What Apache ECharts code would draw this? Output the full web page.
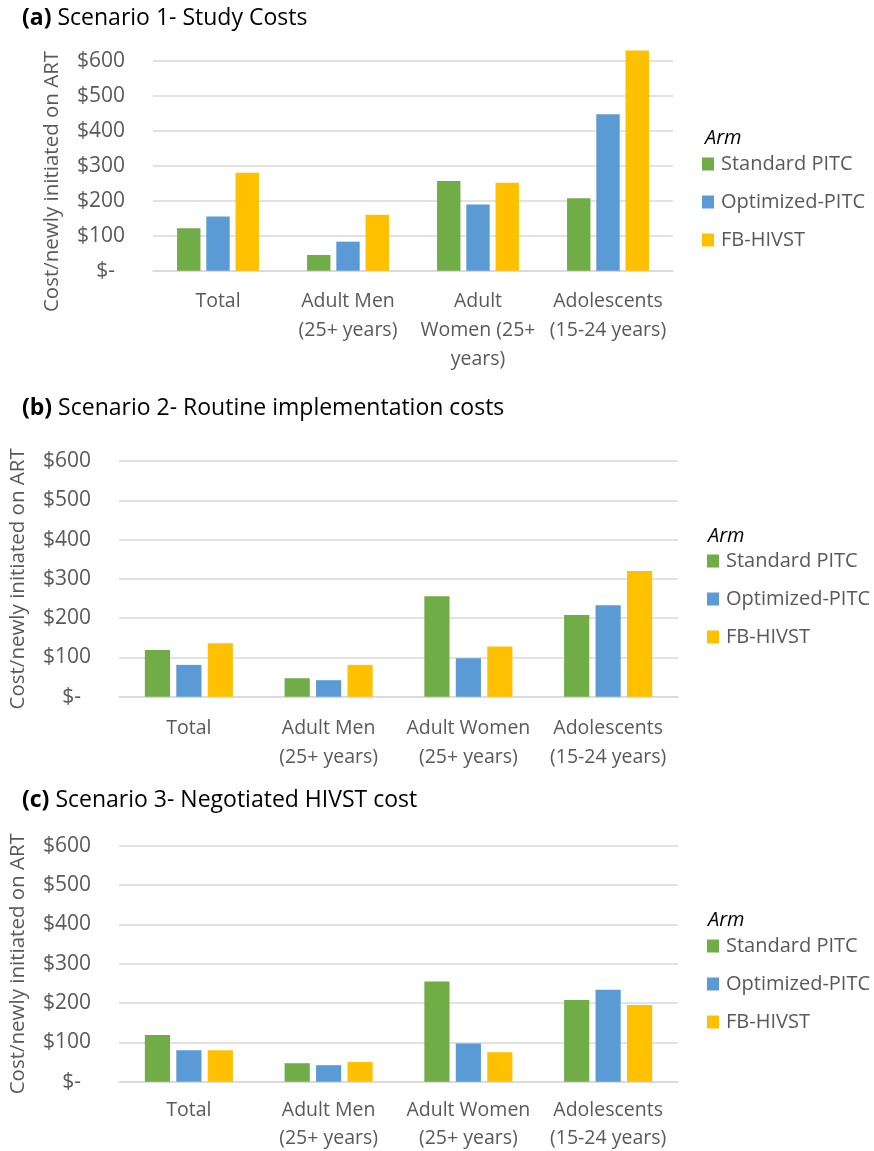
<!DOCTYPE html>
<html>
<head>
<meta charset="utf-8">
<script src="https://cdn.jsdelivr.net/npm/echarts@6/dist/echarts.min.js"></script>
<style>
html,body{margin:0;padding:0;background:#fff;}
#chart{width:874px;height:1151px;}
</style>
</head>
<body>
<div id="chart"></div>
<script>
// ---- data ----
const seriesNames = ['Standard PITC', 'Optimized-PITC', 'FB-HIVST'];
const categoriesA = ['Total', 'Adult Men\n(25+ years)', 'Adult\nWomen (25+\nyears)', 'Adolescents\n(15-24 years)'];
const categoriesBC = ['Total', 'Adult Men\n(25+ years)', 'Adult Women\n(25+ years)', 'Adolescents\n(15-24 years)'];

const s1Standard = [121, 45, 256, 207];
const s1Optimized = [155, 83, 189, 447];
const s1FBHIVST = [280, 160, 251, 629];

const s2Standard = [119, 47, 256, 208];
const s2Optimized = [81, 42, 98, 233];
const s2FBHIVST = [136, 81, 128, 320];

const s3Standard = [119, 47, 255, 208];
const s3Optimized = [80, 42, 97, 234];
const s3FBHIVST = [80, 50, 75, 195];

const panelTitles = ['Scenario 1- Study Costs', 'Scenario 2- Routine implementation costs', 'Scenario 3- Negotiated HIVST cost'];
const panelLetters = ['(a)', '(b)', '(c)'];
const yAxisName = 'Cost/newly initiated on ART';
const legendTitle = 'Arm';

// ---- styles ----
const FONT = '"Open Sans", sans-serif';
const GRAY = '#595959';
const colors = ['#70AD47', '#5B9BD5', '#FFC000'];

const grids = [
  {left: 153, right: 201, top: 50.2, bottom: 880.3, outerBoundsMode: 'none', containLabel: false},
  {left: 119, right: 196, top: 461, bottom: 454.3, outerBoundsMode: 'none', containLabel: false},
  {left: 119, right: 196, top: 845.7, bottom: 69.3, outerBoundsMode: 'none', containLabel: false}
];
const yMax = [630, 600, 600];
const titleTops = [7, 397, 789];
const legendX = [702, 707, 707];
const armX = [705, 708, 708];
const armTops = [128, 526, 910];
const legendTops = [154, 551, 936];
const xLabelMargins = [16, 17.5, 14.5];
const xLabelLineHeights = [29, 29, 28];
const namePads = [[0, 42, 0, 0], [0, 0, 0, 0], [0, 0, 0, 0]];

const panelData = [
  [s1Standard, s1Optimized, s1FBHIVST],
  [s2Standard, s2Optimized, s2FBHIVST],
  [s3Standard, s3Optimized, s3FBHIVST]
];
const panelCats = [categoriesA, categoriesBC, categoriesBC];

const option = {
  animation: false,
  backgroundColor: '#fff',
  title: [],
  legend: [],
  grid: grids,
  xAxis: [],
  yAxis: [],
  series: []
};

for (let p = 0; p < 3; p++) {
  option.title.push({
    text: '{b|' + panelLetters[p] + '} ' + panelTitles[p],
    left: 22, top: titleTops[p], padding: 0,
    textStyle: {
      fontFamily: FONT, fontSize: 23, fontWeight: 'normal', color: '#000',
      rich: {b: {fontFamily: FONT, fontSize: 23, fontWeight: 'bold', color: '#000'}}
    }
  });
  option.title.push({
    text: legendTitle,
    left: armX[p], top: armTops[p], padding: 0,
    textStyle: {fontFamily: FONT, fontSize: 20, fontStyle: 'italic', fontWeight: 'normal', color: '#000'}
  });
  option.legend.push({
    data: seriesNames,
    orient: 'vertical',
    left: legendX[p], top: legendTops[p], padding: 0,
    icon: 'rect', itemWidth: 12, itemHeight: 13, itemGap: 18,
    selectedMode: false,
    textStyle: {fontFamily: FONT, fontSize: 20, color: GRAY, lineHeight: 20, padding: [0, 0, 0, 2]}
  });
  option.xAxis.push({
    type: 'category', gridIndex: p, data: panelCats[p],
    axisLine: {lineStyle: {color: '#D9D9D9', width: 1.5}},
    axisTick: {show: false},
    axisLabel: {fontFamily: FONT, fontSize: 19.5, color: GRAY, lineHeight: xLabelLineHeights[p], margin: xLabelMargins[p], interval: 0}
  });
  option.yAxis.push({
    type: 'value', gridIndex: p, min: 0, max: yMax[p], interval: 100,
    name: yAxisName, nameLocation: 'middle', nameGap: 90,
    nameTextStyle: {fontFamily: FONT, fontSize: 20.5, color: GRAY, padding: namePads[p]},
    axisLine: {show: false}, axisTick: {show: false},
    splitLine: {lineStyle: {color: '#D9D9D9', width: 1.5}, showMaxLine: p !== 0},
    axisLabel: {
      fontFamily: FONT, fontSize: 21, color: GRAY, margin: 28, showMaxLabel: p !== 0,
      formatter: v => v === 0 ? '{z|$-}' : '$' + v,
      rich: {z: {fontFamily: FONT, fontSize: 21, color: GRAY, padding: [0, 10, 0, 0]}}
    }
  });
  for (let s = 0; s < 3; s++) {
    option.series.push({
      name: seriesNames[s], type: 'bar', xAxisIndex: p, yAxisIndex: p,
      data: panelData[p][s], barWidth: '18%', barGap: '25%',
      itemStyle: {color: colors[s]}
    });
  }
}

const chart = echarts.init(document.getElementById('chart'), null, {renderer: 'canvas'});
chart.setOption(option);
</script>
</body>
</html>
